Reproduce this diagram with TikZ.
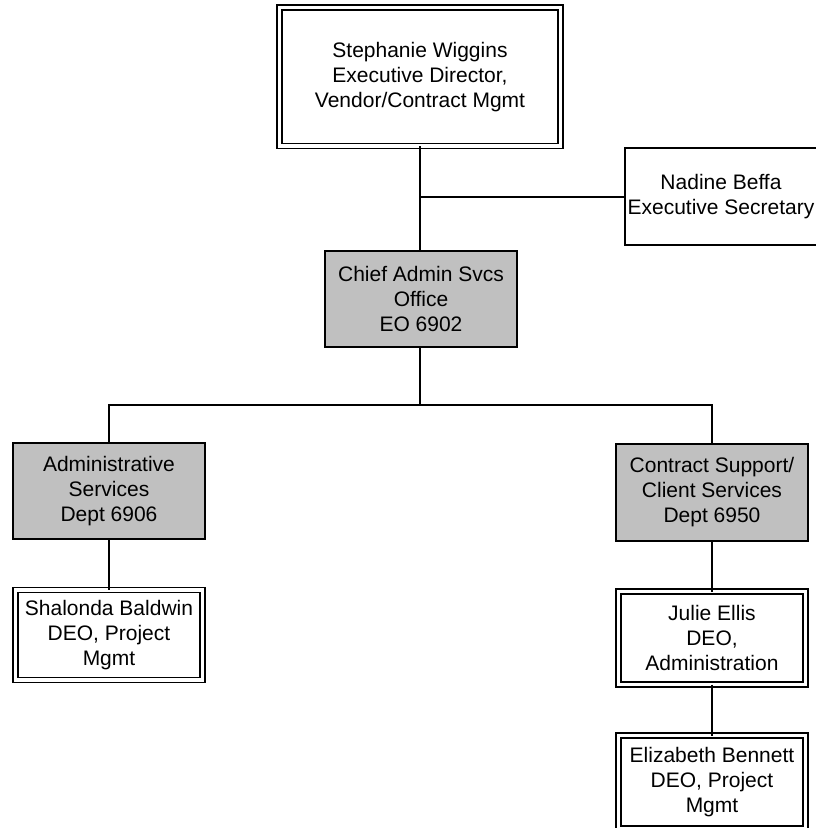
\documentclass[tikz,border=0pt]{standalone}
\usepackage{fontspec}
\setmainfont{Liberation Sans}
\begin{document}
\begin{tikzpicture}[x=1pt,y=-1pt,
  every node/.style={font=\fontsize{21}{25}\selectfont, align=center, inner sep=0pt, outer sep=0pt},
  plainbox/.style={draw=black, line width=2pt, fill=white},
  graybox/.style={draw=black, line width=2pt, fill=boxgray},
  dblbox/.style={draw=black, double=white, double distance=3.2pt, line width=1.8pt},
  conn/.style={draw=black, line width=2pt}]
\definecolor{boxgray}{HTML}{C0C0C0}
\useasboundingbox (0,0) rectangle (816,828);
\begin{scope}
\clip (0,0) rectangle (816,828);
% nodes
\node[dblbox, minimum width=281pt, minimum height=138.5pt] (top) at (420,76.75)
  {Stephanie Wiggins\\Executive Director,\\Vendor/Contract Mgmt};
\node[plainbox, minimum width=192pt, minimum height=97pt] (nad) at (721,196.5)
  {Nadine Beffa\\Executive Secretary};
\node[graybox, minimum width=192pt, minimum height=96pt] (chief) at (421,299)
  {Chief Admin Svcs\\Office\\EO 6902};
\node[graybox, minimum width=192pt, minimum height=96pt] (admin) at (109,491)
  {Administrative\\Services\\Dept 6906};
\node[graybox, minimum width=192pt, minimum height=97pt] (contract) at (712,492.5)
  {Contract Support/\\Client Services\\Dept 6950};
\node[dblbox, minimum width=187pt, minimum height=90pt] (shal) at (109,635)
  {Shalonda Baldwin\\DEO, Project\\Mgmt};
\node[dblbox, minimum width=187pt, minimum height=93pt] (julie) at (712,638)
  {Julie Ellis\\DEO,\\Administration};
\node[dblbox, minimum width=187pt, minimum height=93pt] (eliz) at (712,782)
  {Elizabeth Bennett\\DEO, Project\\Mgmt};
% connectors
\coordinate (bus) at (420,405);
\draw[conn] (top.south -| 420,0) -- (chief.north -| 420,0);
\draw[conn] (nad.west) -- (nad.west -| 420,0);
\draw[conn] (chief.south -| 420,0) -- (bus);
\draw[conn] (admin.north) -- (admin.north |- bus) -- (contract.north |- bus) -- (contract.north);
\draw[conn] (admin.south) -- (shal.north);
\draw[conn] (contract.south) -- (julie.north);
\draw[conn] (julie.south) -- (eliz.north);
\end{scope}
\end{tikzpicture}
\end{document}
